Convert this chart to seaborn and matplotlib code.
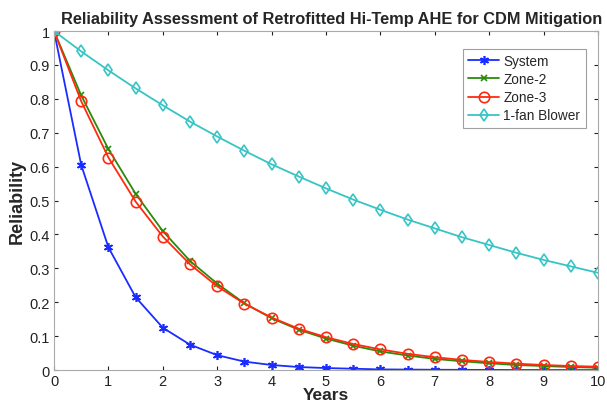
import numpy as np
import matplotlib
matplotlib.use('Agg')
import matplotlib.pyplot as plt
import pandas as pd
import seaborn as sns

sns.set_style('white')
plt.rcParams['font.family'] = ['Liberation Sans', 'DejaVu Sans']

years = [0, 0.5, 1, 1.5, 2, 2.5, 3, 3.5, 4, 4.5, 5, 5.5, 6, 6.5, 7, 7.5, 8, 8.5, 9, 9.5, 10]
system = [1.0, 0.605, 0.362, 0.215, 0.125, 0.075, 0.044, 0.025, 0.015, 0.009, 0.006, 0.004, 0.002,
          0.0015, 0.001, 0.0007, 0.0005, 0.0003, 0.0002, 0.0001, 0.0001]
zone2 = [1.0, 0.81, 0.652, 0.52, 0.41, 0.322, 0.255, 0.197, 0.153, 0.119, 0.093, 0.072, 0.055,
         0.043, 0.033, 0.026, 0.02, 0.015, 0.012, 0.009, 0.007]
zone3 = [1.0, 0.793, 0.627, 0.497, 0.394, 0.312, 0.247, 0.196, 0.155, 0.122, 0.097, 0.077, 0.061,
         0.048, 0.038, 0.03, 0.024, 0.019, 0.015, 0.012, 0.01]
blower = [1.0, 0.94, 0.884, 0.831, 0.781, 0.733, 0.689, 0.647, 0.607, 0.571, 0.536, 0.503, 0.473,
          0.444, 0.418, 0.392, 0.369, 0.346, 0.325, 0.306, 0.287]

series = {'System': system, 'Zone-2': zone2, 'Zone-3': zone3, '1-fan Blower': blower}
df = pd.DataFrame([(y, name, v) for name, vals in series.items() for y, v in zip(years, vals)],
                  columns=['Years', 'Component', 'Reliability'])

colors = {'System': '#1a2cff', 'Zone-2': '#2a8a0a', 'Zone-3': '#ff2a10', '1-fan Blower': '#38c4c4'}
markers = {'System': (6, 2, 0), 'Zone-2': 'x', 'Zone-3': 'o', '1-fan Blower': 'd'}
msizes = {'System': 6.5, 'Zone-2': 4.5, 'Zone-3': 7.5, '1-fan Blower': 6.5}

fig = plt.figure(figsize=(6.07, 4.06), dpi=100)
ax = fig.add_axes([0.089, 0.086, 0.896, 0.835])

for name in series:
    sub = df[df['Component'] == name]
    sns.lineplot(data=sub, x='Years', y='Reliability', ax=ax, color=colors[name],
                 marker=markers[name], markersize=msizes[name], markerfacecolor='none',
                 markeredgecolor=colors[name], markeredgewidth=1.2, linewidth=1.3, label=name)

ax.set_xlim(0, 10)
ax.set_ylim(0, 1)
ax.set_xticks(range(0, 11))
ax.set_yticks(np.arange(0, 1.01, 0.1))
ax.set_yticklabels(['0', '0.1', '0.2', '0.3', '0.4', '0.5', '0.6', '0.7', '0.8', '0.9', '1'])
ax.tick_params(direction='in', length=3, labelsize=10.5, colors='#222222', top=True, right=True,
               bottom=True, left=True, labeltop=False, labelright=False, pad=3)
for s in ax.spines.values():
    s.set_color('#aaaaaa')
    s.set_linewidth(0.8)

ax.set_xlabel('Years', fontsize=12.5, fontweight='bold', labelpad=-1)
ax.set_ylabel('Reliability', fontsize=13, fontweight='bold', labelpad=3)
ax.set_title('Reliability Assessment of Retrofitted Hi-Temp AHE for CDM Mitigation',
             fontsize=11.8, fontweight='bold', pad=6, x=0.51)

leg = ax.legend(loc='upper right', bbox_to_anchor=(0.985, 0.96), fontsize=9.8, frameon=True,
                fancybox=False, borderpad=0.4, labelspacing=0.3, handlelength=2.3,
                handletextpad=0.3, borderaxespad=0.3)
leg.get_frame().set_edgecolor('#888888')
leg.get_frame().set_linewidth(0.8)

fig.savefig('out.png', dpi=100)
